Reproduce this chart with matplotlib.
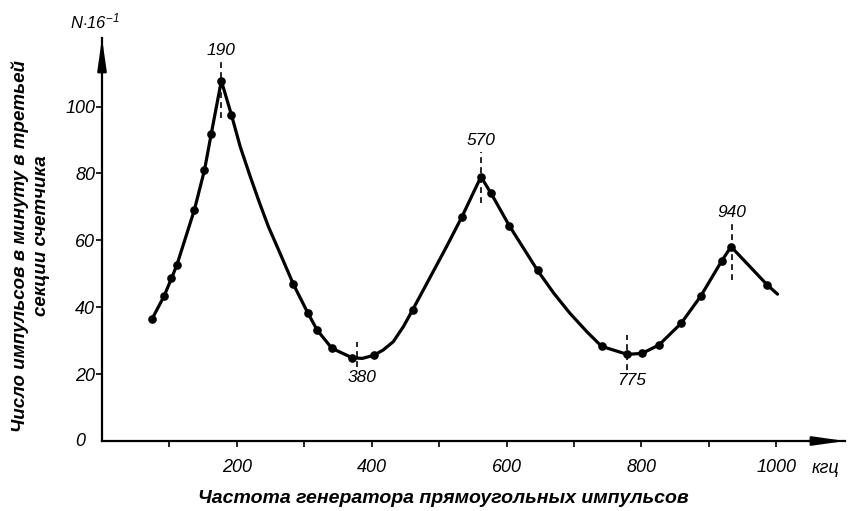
import matplotlib
matplotlib.use("Agg")
import matplotlib.pyplot as plt
import numpy as np

# ---- data ----
# measured points (drawn with markers)
meas_freq = [74, 92, 103, 111, 137, 152, 162, 177, 192, 284, 305, 319, 341, 371,
             403, 461, 534, 562, 577, 604, 646, 741, 779, 801, 826, 859, 888,
             919, 933, 987]
meas_count = [36.4, 43.3, 48.6, 52.6, 69.1, 81.0, 91.8, 107.7, 97.5, 46.8, 38.4,
              33.2, 27.7, 24.9, 25.6, 39.3, 67.1, 79.0, 74.1, 64.4, 51.0, 28.3,
              25.9, 26.2, 28.7, 35.2, 43.3, 53.8, 58.1, 46.6]
# additional points (no markers)
trace_freq = [205, 220, 234, 247, 262, 386, 417, 432, 447, 511, 670, 694, 719, 1002]
trace_count = [88.0, 79.0, 71.0, 64.0, 57.1, 24.7, 27.2, 29.7, 34.2, 58.1, 44.2,
               38.2, 32.7, 43.9]

# resonance annotations
ann_labels = ["190", "380", "570", "775", "940"]
ann_x = [176, 378, 562, 778, 934]
ann_y_top = [113.3, 29.7, 86.5, 31.7, 64.9]
ann_y_bot = [96.6, 22.2, 71.1, 21.2, 48.1]
ann_above = [True, False, True, False, True]

x_ticks = [100, 200, 300, 400, 500, 600, 700, 800, 900, 1000]
x_ticklabels = ["", "200", "", "400", "", "600", "", "800", "", "1000"]
y_ticks = [20, 40, 60, 80, 100]
y_ticklabels = ["20", "40", "60", "80", "100"]

x_label = "Частота генератора прямоугольных импульсов"
y_label1 = "Число импульсов в минуту в третьей"
y_label2 = "секции счетчика"
y_unit = r"$N{\cdot}16^{-1}$"
x_unit = "кгц"

# ---- style ----
plt.rcParams['font.family'] = ['Liberation Sans', 'DejaVu Sans']
plt.rcParams['font.style'] = 'italic'
plt.rcParams['mathtext.fontset'] = 'custom'
plt.rcParams['mathtext.rm'] = 'Liberation Sans:italic'
plt.rcParams['mathtext.it'] = 'Liberation Sans:italic'

fig = plt.figure(figsize=(8.5, 5.11), dpi=100)
ax = fig.add_axes([102 / 850, 70 / 511, 743 / 850, 403 / 511])
ax.set_xlim(0, 1102)
ax.set_ylim(0, 120.5)

# curve through measured + traced points
cf = np.array(meas_freq + trace_freq, dtype=float)
cc = np.array(meas_count + trace_count, dtype=float)
order = np.argsort(cf)
ax.plot(cf[order], cc[order], color='black', lw=2.3, solid_capstyle='round',
        solid_joinstyle='round', zorder=3)
ax.plot(meas_freq, meas_count, 'o', color='black', ms=5.2, zorder=4)

# dashed resonance markers and labels
for lab, x, yt, yb, above in zip(ann_labels, ann_x, ann_y_top, ann_y_bot, ann_above):
    ax.plot([x, x], [yb, yt], color='black', lw=1.2, ls=(0, (3.5, 2.5)), zorder=2)
    if above:
        ax.annotate(lab, xy=(x, yt), xytext=(0, 3), textcoords='offset points',
                    ha='center', va='bottom', fontsize=12.5)
    else:
        ax.annotate(lab, xy=(x, yb), xytext=(4, -2), textcoords='offset points',
                    ha='center', va='top', fontsize=12.5)

# axes styling
for s in ['top', 'right']:
    ax.spines[s].set_visible(False)
for s in ['left', 'bottom']:
    ax.spines[s].set_linewidth(1.6)

ax.set_xticks(x_ticks)
ax.set_xticklabels(x_ticklabels)
ax.set_yticks(y_ticks)
ax.set_yticklabels(y_ticklabels)
ax.tick_params(axis='x', direction='out', length=4, width=1.2, pad=9, labelsize=13)
ax.tick_params(axis='y', direction='out', length=4, width=1.2, pad=1, labelsize=13)

# "0" at origin
ax.text(-0.022, 0, "0", transform=ax.get_yaxis_transform(), ha='right',
        va='center', fontsize=13)

# arrows
arrow_style = '-|>,head_length=1.9,head_width=0.27'
ax.annotate('', xy=(1.0, 0), xytext=(0.95, 0), xycoords='axes fraction',
            arrowprops=dict(arrowstyle=arrow_style, lw=1.6, color='black',
                            shrinkA=0, shrinkB=0), annotation_clip=False)
ax.annotate('', xy=(0, 1.0), xytext=(0, 0.93), xycoords='axes fraction',
            arrowprops=dict(arrowstyle=arrow_style, lw=1.6, color='black',
                            shrinkA=0, shrinkB=0), annotation_clip=False)

# unit labels
ax.text(0.974, -0.047, x_unit, transform=ax.transAxes, ha='center', va='top',
        fontsize=13)
fig.text(95 / 850, 1 - 21 / 511, y_unit, ha='center', va='center', fontsize=12)

# axis titles
fig.text(443 / 850, 13 / 511, x_label, ha='center', va='center', fontsize=14,
         fontweight='bold')
fig.text(20 / 850, 1 - 246 / 511, y_label1, ha='center', va='center',
         rotation=90, fontsize=13.5, fontweight='bold')
fig.text(42 / 850, 1 - 236 / 511, y_label2, ha='center', va='center',
         rotation=90, fontsize=13.5, fontweight='bold')

fig.savefig("out.png", dpi=100)
